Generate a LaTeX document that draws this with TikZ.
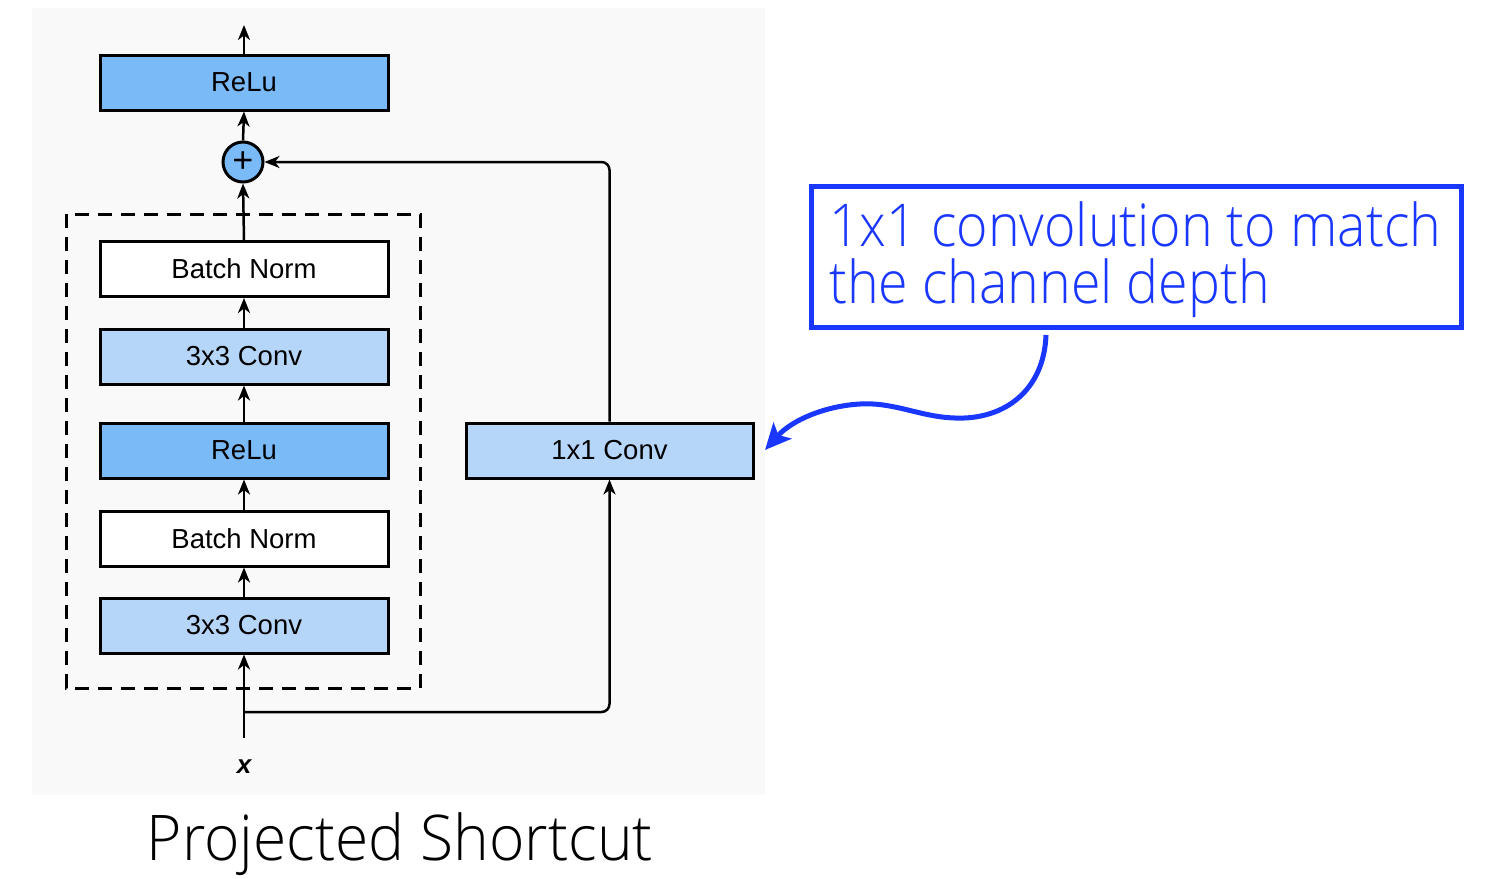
\documentclass[tikz,border=0pt]{standalone}
\usepackage{fontspec}
\setmainfont{Liberation Sans}
\newfontfamily\capfont[FakeStretch=0.96]{Open Sans Light}
\newfontfamily\annotfont[FakeStretch=0.91]{Open Sans Light}
\usetikzlibrary{arrows.meta}
\definecolor{bgray}{HTML}{F9F9F9}
\definecolor{bluefill}{HTML}{7ABBF7}
\definecolor{lightfill}{HTML}{B6D6F9}
\definecolor{annotblue}{HTML}{1A37FF}
\tikzset{
  layer/.style={draw=black, line width=3pt, minimum width=288pt, minimum height=55pt, inner sep=0pt, font=\fontsize{27.5}{30}\selectfont},
  conn/.style={draw=black, line width=2.5pt, -{Stealth[length=15pt,width=12pt,inset=4.5pt]}},
}
\begin{document}
\begin{tikzpicture}[x=1pt,y=-1pt]
\useasboundingbox (0,0) rectangle (1501,878);
\fill[bgray] (32,8) rectangle (765,795);
% dashed block
\draw[line width=3pt, dash pattern=on 14pt off 9pt] (66,214) rectangle (420,688);
% layers
\node[layer, fill=bluefill] (relutop) at (244,82.5) {ReLu};
\node[circle, draw=black, line width=3pt, fill=bluefill, minimum size=40pt, inner sep=0pt, font=\fontsize{36}{36}\selectfont] (plus) at (243,162) {+};
\node[layer, fill=white] (bn1) at (244,269) {Batch Norm};
\node[layer, fill=lightfill] (conv1) at (244,356.5) {3x3 Conv};
\node[layer, fill=bluefill] (relu) at (244,450.5) {ReLu};
\node[layer, fill=white] (bn2) at (244,538.5) {Batch Norm};
\node[layer, fill=lightfill] (conv2) at (244,625.5) {3x3 Conv};
\node[layer, fill=lightfill, minimum width=287pt] (proj) at (609.5,450.5) {1x1 Conv};
\node[font=\fontsize{26}{30}\selectfont\bfseries\itshape] (xin) at (244,767) {x};
\coordinate (xstart) at (244,738);
\coordinate (split) at (244,712);
\coordinate (out) at (244,25);
% connectors
\draw[conn] (relutop.north) -- (out);
\draw[conn] (plus.north) -- (relutop.south);
\draw[conn] (bn1.north) -- (plus.south);
\draw[conn] (conv1.north) -- (bn1.south);
\draw[conn] (relu.north) -- (conv1.south);
\draw[conn] (bn2.north) -- (relu.south);
\draw[conn] (conv2.north) -- (bn2.south);
\draw[conn] (xstart) -- (conv2.south);
\draw[conn, rounded corners=8pt] (split) -| (proj.south);
\draw[conn, rounded corners=8pt] (proj.north) |- (plus.east);
% caption
\node[font=\capfont\fontsize{63}{70}\selectfont, anchor=base] (cap) at (400,860) {Projected Shortcut};
% annotation
\node[draw=annotblue, line width=5pt, minimum width=650pt, minimum height=141pt, inner sep=0pt] (annot) at (1136,256.5) {};
\node[font=\annotfont\fontsize{59}{57}\selectfont, text=annotblue, align=left, anchor=base west, inner sep=0pt] (annottext) at (829,303) {1x1 convolution to match\\the channel depth};
\coordinate (astart) at (1046,335);
\coordinate (aend) at (765,450);
\draw[annotblue, line width=5pt, -{Stealth[length=26pt,width=24pt,inset=6pt]}] (astart) .. controls (1044,390) and (1005,420) .. (955,418) .. controls (920,417) and (895,402) .. (860,404) .. controls (825,406) and (792,420) .. (aend);
\end{tikzpicture}
\end{document}
